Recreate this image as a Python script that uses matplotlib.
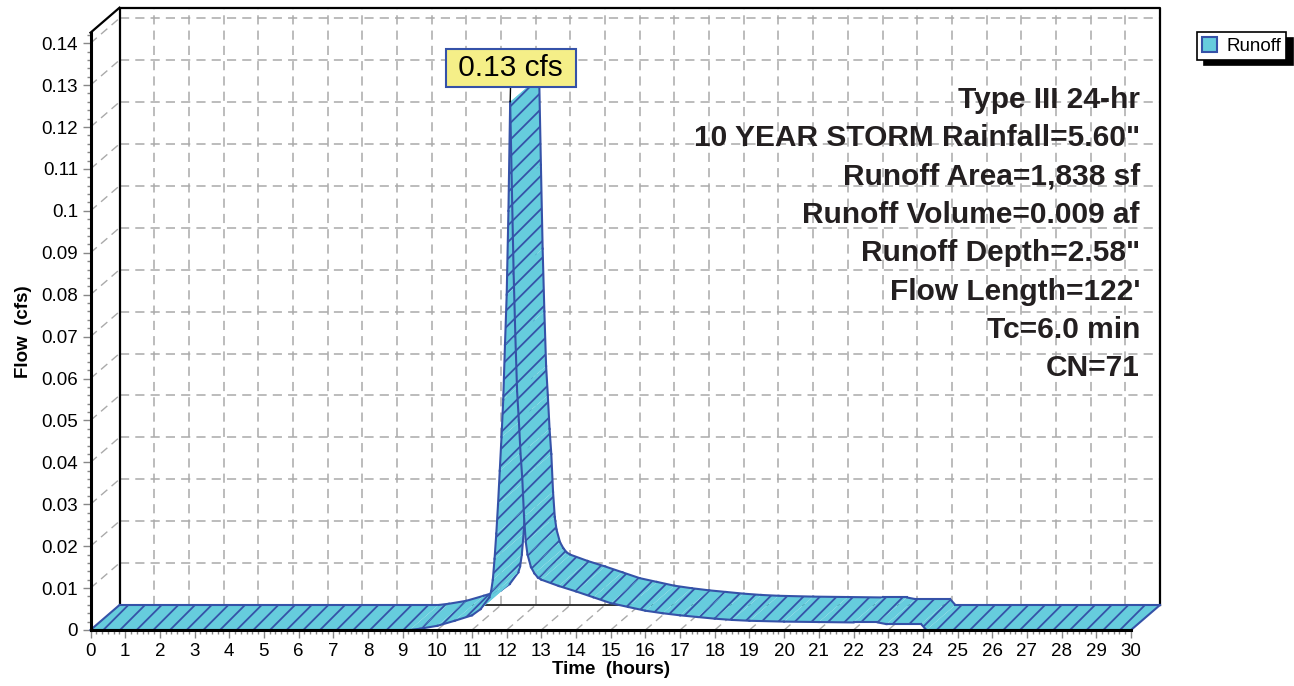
import matplotlib
matplotlib.use('Agg')
import matplotlib.pyplot as plt
from matplotlib.patches import Polygon, Patch
from matplotlib.ticker import MultipleLocator, FuncFormatter

FILL = '#66CCDD'
EDGE = '#3552A8'
GRID = '#AAAAAA'

plt.rcParams['font.family'] = ['Liberation Sans', 'DejaVu Sans']
plt.rcParams['hatch.linewidth'] = 1.3
plt.rcParams['hatch.color'] = EDGE

# Runoff hydrograph
hours = [0.0, 9.2, 9.5, 10.0, 10.5, 11.0, 11.25, 11.5, 11.55, 11.6, 11.65,
         11.7, 11.75, 11.8, 11.85, 11.9, 11.95, 12.0, 12.05, 12.1, 12.15,
         12.2, 12.25, 12.3, 12.35, 12.4, 12.45, 12.5, 12.55, 12.6, 12.7,
         12.8, 12.9, 13.0, 13.5, 14.0, 14.5, 15.0, 15.5, 16.0, 16.5, 17.0,
         17.5, 18.0, 18.5, 19.0, 20.0, 21.0, 22.0, 22.7, 22.95, 23.95,
         24.1, 30.0]
flow = [0.0, 0.0, 0.0003, 0.001, 0.0022, 0.0035, 0.005, 0.0078, 0.0092,
        0.012, 0.017, 0.023, 0.030, 0.038, 0.046, 0.055, 0.068, 0.080,
        0.100, 0.126, 0.105, 0.085, 0.070, 0.057, 0.050, 0.042, 0.036,
        0.027, 0.021, 0.018, 0.015, 0.0135, 0.0125, 0.012, 0.0105, 0.0092,
        0.0078, 0.0064, 0.0055, 0.0046, 0.0040, 0.0035, 0.0031, 0.0027,
        0.0024, 0.0022, 0.0020, 0.0019, 0.0018, 0.0018, 0.0014, 0.0014,
        0.0, 0.0]

peak_label = '0.13 cfs'
info_lines = ['Type III 24-hr',
              '10 YEAR STORM Rainfall=5.60"',
              'Runoff Area=1,838 sf',
              'Runoff Volume=0.009 af',
              'Runoff Depth=2.58"',
              "Flow Length=122'",
              'Tc=6.0 min',
              'CN=71']

W, H = 1294, 686
fig = plt.figure(figsize=(W / 100, H / 100), dpi=100)

# front plane of the pseudo-3d box, in pixels
x0, x1, yb, yt = 90.5, 1131, 630, 32.7
XMAX, YTOP = 30, 0.1425
ax = fig.add_axes([x0 / W, (H - yb) / H, (x1 - x0) / W, (yb - yt) / H])
ax.set_xlim(0, XMAX)
ax.set_ylim(0, YTOP)
ax.patch.set_visible(False)

# depth offset (29 px right, 25 px up) in data units
DX = 29 * XMAX / (x1 - x0)
DY = 25 * YTOP / (yb - yt)

dash = (0, (6, 4))
# back wall grid
for t in range(1, XMAX):
    ax.plot([t + DX, t + DX], [DY, YTOP + DY], color=GRID, lw=1.1, ls=dash, clip_on=False, zorder=1)
    ax.plot([t, t + DX], [0, DY], color=GRID, lw=1.0, ls=dash, clip_on=False, zorder=1)
for k in range(1, 15):
    q = k / 100
    ax.plot([DX, XMAX + DX], [q + DY, q + DY], color=GRID, lw=1.1, ls=dash, clip_on=False, zorder=1)
    ax.plot([0, DX], [q, q + DY], color=GRID, lw=1.0, ls=dash, clip_on=False, zorder=1)

# box frame
frame = dict(color='black', lw=1.6, clip_on=False, zorder=2)
ax.plot([DX, DX, XMAX + DX, XMAX + DX], [DY, YTOP + DY, YTOP + DY, DY], **frame)
ax.plot([0, DX], [YTOP, YTOP + DY], **frame)
ax.plot([DX, XMAX + DX], [DY, DY], color='#333333', lw=1.4, clip_on=False, zorder=2)

# extruded hydrograph ribbon, drawn segment by segment (painter's order)
n = len(hours)
for i in range(n - 1):
    t0, t1, q0, q1 = hours[i], hours[i + 1], flow[i], flow[i + 1]
    z = 5 + i * 0.01
    quad = [(t0, q0), (t1, q1), (t1 + DX, q1 + DY), (t0 + DX, q0 + DY)]
    ax.add_patch(Polygon(quad, closed=True, facecolor=FILL, edgecolor=EDGE, lw=0,
                         hatch='//', clip_on=False, zorder=z))
    ax.plot([t0, t1], [q0, q1], color=EDGE, lw=1.5, clip_on=False, zorder=z + 0.005)
    ax.plot([t0 + DX, t1 + DX], [q0 + DY, q1 + DY], color=EDGE, lw=1.5, clip_on=False, zorder=z + 0.005)
for t, q in [(hours[0], flow[0]), (hours[-1], flow[-1])]:
    ax.plot([t, t + DX], [q, q + DY], color=EDGE, lw=1.5, clip_on=False, zorder=6)

# axes
for s in ['top', 'right']:
    ax.spines[s].set_visible(False)
for s in ['left', 'bottom']:
    ax.spines[s].set_linewidth(2.2)
    ax.spines[s].set_zorder(10)
ax.xaxis.set_major_locator(MultipleLocator(1))
ax.xaxis.set_minor_locator(MultipleLocator(1 / 6))
ax.yaxis.set_major_locator(MultipleLocator(0.01))
ax.yaxis.set_minor_locator(MultipleLocator(0.002))
ax.yaxis.set_major_formatter(FuncFormatter(lambda v, p: '0' if abs(v) < 1e-9 else '%g' % round(v, 2)))
ax.tick_params(which='major', length=6, width=1, color='#888888', labelsize=13.5, pad=3)
ax.tick_params(which='minor', length=3, width=1, color='#888888')
ax.set_xlim(0, XMAX)
ax.set_ylim(0, YTOP)
ax.set_xlabel('Time  (hours)', fontsize=13.5, fontweight='bold', labelpad=1)
ax.set_ylabel('Flow  (cfs)', fontsize=13.5, fontweight='bold', labelpad=7)

# peak label
ipk = flow.index(max(flow))
ax.annotate(' ' + peak_label + ' ', xy=(hours[ipk], flow[ipk]), xytext=(511, H - 68),
            textcoords='figure pixels', ha='center', va='center', fontsize=21.5,
            bbox=dict(boxstyle='square,pad=0.16', facecolor='#F5EF88', edgecolor=EDGE, lw=1.5),
            arrowprops=dict(arrowstyle='-', color='black', lw=1, shrinkA=0, shrinkB=0),
            zorder=20)

# storm summary
for k, line in enumerate(info_lines):
    fig.text(1140 / W, (H - 100 - k * 38.3) / H, line, ha='right', va='center',
             fontsize=21.5, fontweight='bold', color='#231F20', zorder=20)

leg = fig.legend(handles=[Patch(facecolor=FILL, edgecolor=EDGE, lw=1.5, label='Runoff')],
                 loc='upper right', bbox_to_anchor=(1286 / W, (H - 32) / H), fontsize=13.5,
                 frameon=True, fancybox=False, edgecolor='black', framealpha=1,
                 shadow={'color': 'black', 'alpha': 1, 'ox': 5, 'oy': -4},
                 borderaxespad=0, borderpad=0.25, handlelength=0.8, handleheight=0.9,
                 handletextpad=0.5)
leg.get_frame().set_linewidth(1.2)

fig.savefig('out.png', dpi=100)
